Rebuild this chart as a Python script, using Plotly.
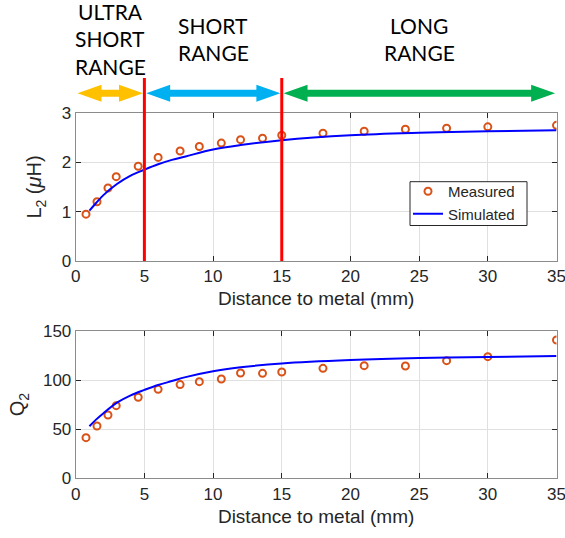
import plotly.graph_objects as go

# ---------------- data ----------------
x_meas = [0.75, 1.55, 2.35, 2.95, 4.55, 6.0, 7.6, 9.0, 10.6, 12.0, 13.6, 15.0, 18.0, 21.0, 24.0, 27.0, 30.0, 35.0]
L_meas = [0.95, 1.20, 1.48, 1.71, 1.92, 2.10, 2.23, 2.32, 2.39, 2.46, 2.49, 2.55, 2.59, 2.63, 2.67, 2.69, 2.72, 2.75]
Q_meas = [41.4, 53.3, 64.5, 74.0, 82.5, 90.6, 95.4, 98.4, 101.1, 107.2, 106.9, 108.2, 112.0, 114.7, 114.4, 119.8, 123.9, 140.8]

x_sim = [1, 1.5, 2, 3, 4, 5, 6, 7, 8, 10, 12, 15, 20, 25, 30, 35]
L_sim = [1.02, 1.18, 1.33, 1.56, 1.73, 1.85, 1.96, 2.05, 2.12, 2.26, 2.35, 2.45, 2.55, 2.60, 2.63, 2.65]
Q_sim = [53, 60, 66, 77, 84.5, 90, 95, 99, 103, 109, 113, 117, 120.5, 122.5, 123.5, 124.5]

range_edges = [0, 5, 15, 35]
range_labels = [["ULTRA", "SHORT", "RANGE"], ["SHORT", "RANGE"], ["LONG", "RANGE"]]
range_colors = ["#FFC000", "#00B0F0", "#00B050"]
boundaries = [5, 15]

# ---------------- layout geometry ----------------
W, H = 565, 538
x_dom = [75.7 / W, 556.5 / W]
top_dom = [1 - 261 / H, 1 - 113 / H]
bot_dom = [1 - 478.3 / H, 1 - 331 / H]
px_per_unit = (x_dom[1] - x_dom[0]) * W / 35.0

FONT = "Liberation Sans, Arial, sans-serif"
TXT = "#262626"
AX = "#8c8c8c"
GRID = "#e0e0e0"
ORANGE = "#D95319"
BLUE = "#0000FF"

fig = go.Figure()

fig.add_trace(go.Scatter(x=x_meas, y=L_meas, mode="markers", name="Measured",
                         marker=dict(symbol="circle-open", size=7, color=ORANGE, line=dict(width=2, color=ORANGE)),
                         xaxis="x", yaxis="y"))
fig.add_trace(go.Scatter(x=x_sim, y=L_sim, mode="lines", name="Simulated", line=dict(color=BLUE, width=2, shape="spline"),
                         xaxis="x", yaxis="y"))
fig.add_trace(go.Scatter(x=x_meas, y=Q_meas, mode="markers", showlegend=False,
                         marker=dict(symbol="circle-open", size=7, color=ORANGE, line=dict(width=2, color=ORANGE)),
                         xaxis="x2", yaxis="y2"))
fig.add_trace(go.Scatter(x=x_sim, y=Q_sim, mode="lines", showlegend=False, line=dict(color=BLUE, width=2, shape="spline"),
                         xaxis="x2", yaxis="y2"))

axis_common = dict(showline=True, linecolor=AX, linewidth=1, mirror="ticks", ticks="inside", ticklen=5,
                   tickcolor=TXT, tickwidth=1, showgrid=True, gridcolor=GRID, gridwidth=1, zeroline=False,
                   ticklabeloverflow="allow", automargin=False,
                   tickfont=dict(family=FONT, size=17, color=TXT))

shapes = []
# red boundary lines
for b in boundaries:
    shapes.append(dict(type="line", xref="x", yref="paper", x0=b, x1=b, y0=top_dom[0], y1=1 - 78 / H,
                       line=dict(color="#FF0000", width=3), layer="above"))

# double arrows
yc = 1 - 93.3 / H
hh = 8.5 / H
sh = 3.5 / H
hl = 24 / px_per_unit
annotations = []
for i in range(3):
    a, b = range_edges[i], range_edges[i + 1]
    x0 = a + 0.13
    x1 = b - 0.1
    path = (f"M {x0},{yc} L {x0+hl},{yc+hh} L {x0+hl},{yc+sh} L {x1-hl},{yc+sh} L {x1-hl},{yc+hh} "
            f"L {x1},{yc} L {x1-hl},{yc-hh} L {x1-hl},{yc-sh} L {x0+hl},{yc-sh} L {x0+hl},{yc-hh} Z")
    shapes.append(dict(type="path", xref="x", yref="paper", path=path, fillcolor=range_colors[i],
                       line=dict(width=0), layer="above"))
    lines = range_labels[i]
    n = len(lines)
    for j, t in enumerate(lines):
        ypx = 39 + (j - (n - 1) / 2) * 27.5
        annotations.append(dict(text=t, xref="x", yref="paper", x=(a + b) / 2, y=1 - ypx / H,
                                xanchor="center", yanchor="middle", showarrow=False,
                                font=dict(family="Lato, Carlito, sans-serif", size=21, color="black")))

# legend frame (reference box size)
shapes.append(dict(type="rect", xref="paper", yref="paper", x0=410 / W, x1=527 / W,
                   y0=1 - 225.5 / H, y1=1 - 181.7 / H, line=dict(color=TXT, width=1),
                   fillcolor="white", layer="above"))

fig.update_layout(
    width=W, height=H, margin=dict(l=0, r=0, t=0, b=0),
    paper_bgcolor="white", plot_bgcolor="white",
    xaxis=dict(domain=x_dom, range=[0, 35], dtick=5, anchor="y",
               title=dict(text="Distance to metal (mm)", font=dict(family=FONT, size=19, color=TXT), standoff=6),
               **axis_common),
    yaxis=dict(domain=top_dom, range=[0, 3], dtick=1, anchor="x",
               title=dict(text="L<sub>2</sub> (<i>μ</i>H)", font=dict(family=FONT, size=20, color=TXT), standoff=14),
               **axis_common),
    xaxis2=dict(domain=x_dom, range=[0, 35], dtick=5, anchor="y2",
                title=dict(text="Distance to metal (mm)", font=dict(family=FONT, size=19, color=TXT), standoff=6),
                **axis_common),
    yaxis2=dict(domain=bot_dom, range=[0, 150], dtick=50, anchor="x2",
                title=dict(text="Q<sub>2</sub>", font=dict(family=FONT, size=20, color=TXT), standoff=12),
                **axis_common),
    legend=dict(x=408 / W, y=1 - 175 / H, xanchor="left", yanchor="top", bgcolor="rgba(0,0,0,0)",
                borderwidth=0, font=dict(family=FONT, size=15, color=TXT),
                tracegroupgap=0, itemwidth=30),
    shapes=shapes, annotations=annotations,
    showlegend=True,
)

fig.write_html("out.html")
